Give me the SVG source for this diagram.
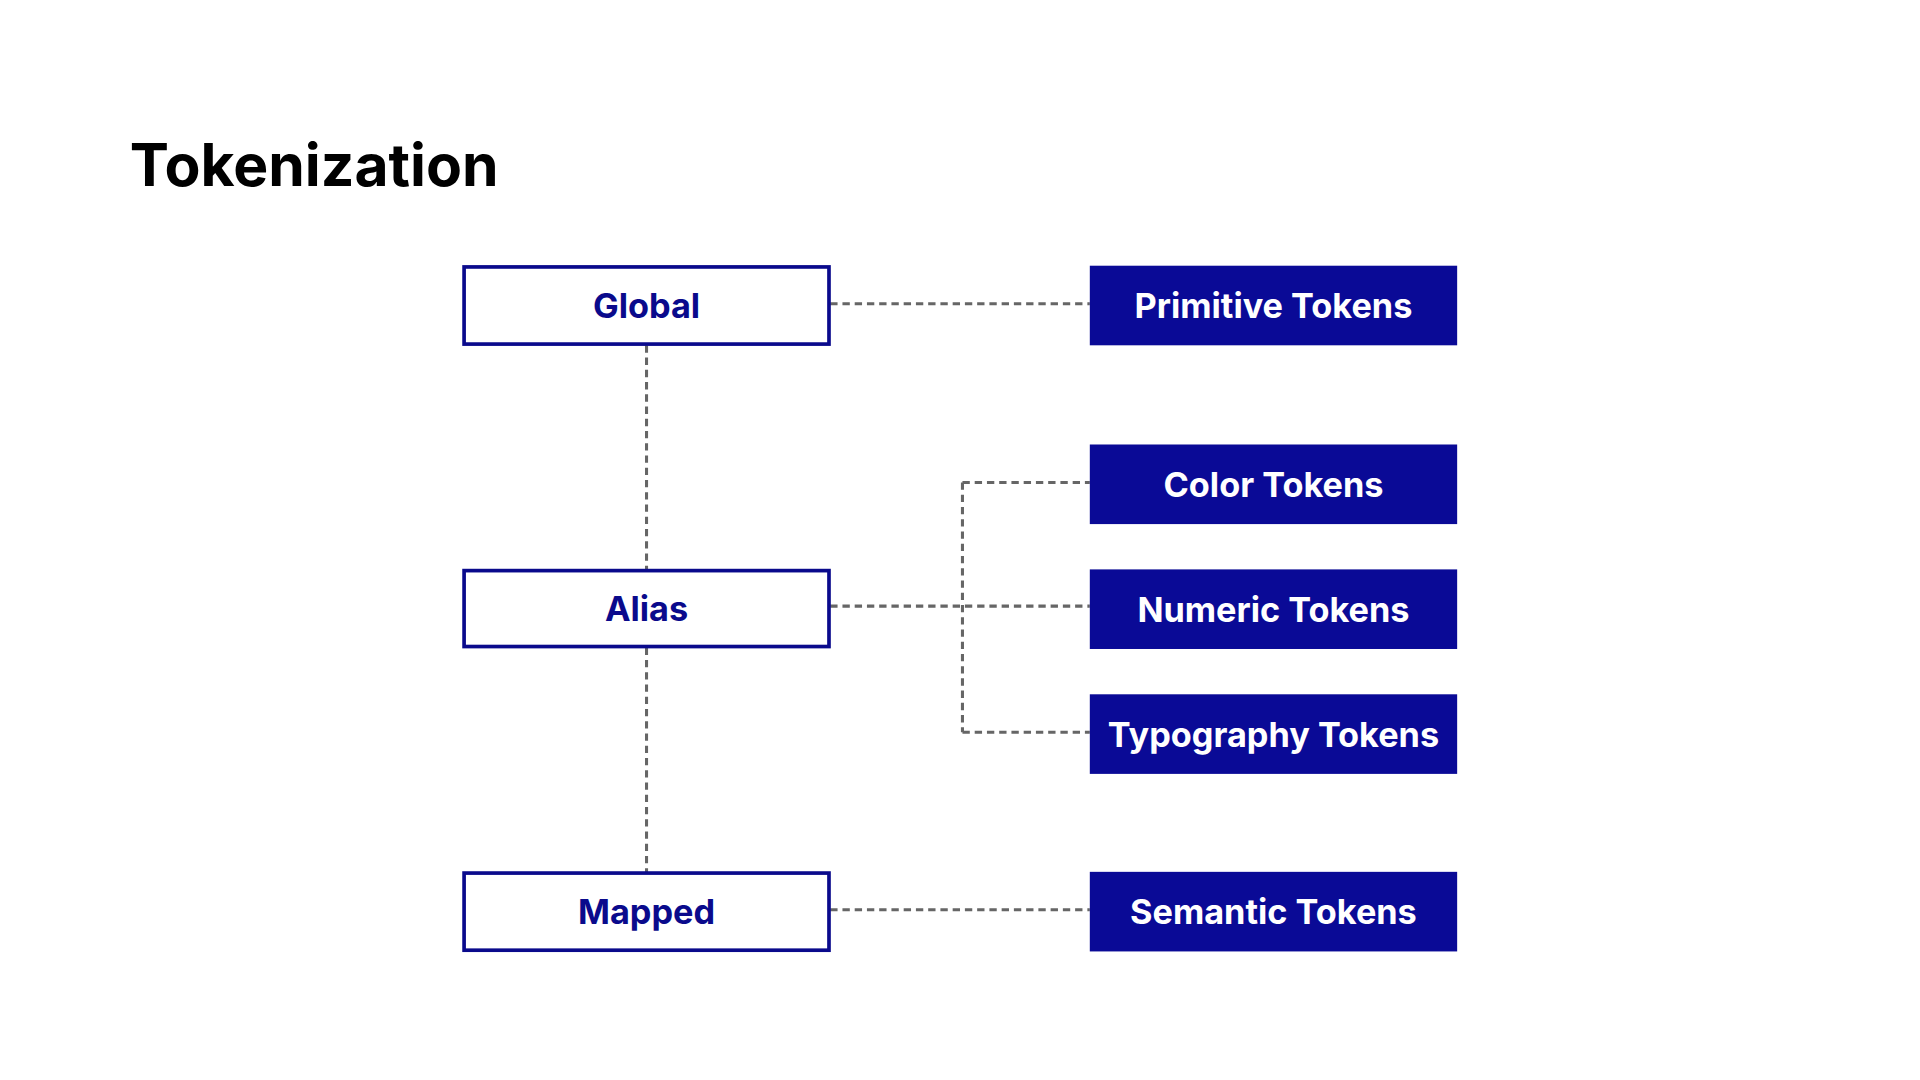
<svg xmlns="http://www.w3.org/2000/svg" width="1920" height="1080" viewBox="0 0 1920 1080">
<style>
.l{fill:#fff;stroke:#0a0a8c;stroke-width:3}
.r{fill:#0a0a96}
.t{font-family:Inter,"Liberation Sans",sans-serif;font-weight:700;font-size:28px;text-anchor:middle}
.lt{fill:#0a0a8c}
.rt{fill:#fff}
.c{stroke:#666;stroke-width:2.5;stroke-dasharray:6 4;fill:none}
</style>
<rect width="1920" height="1080" fill="#fff"/>
<g transform="scale(1.2245)">
<text x="106" y="152" font-family="Inter,'Liberation Sans',sans-serif" font-weight="700" font-size="48" fill="#000">Tokenization</text>
<g id="connectors">
<path class="c" d="M678 248H890M528 282V466M528 529V713M678 495H890M786 394V598M786 394H890M786 598H890M678 743H890"/>
</g>
<g id="global"><rect class="l" x="379" y="218" width="298" height="63"/><text class="t lt" x="528" y="260">Global</text></g>
<g id="alias"><rect class="l" x="379" y="466" width="298" height="62"/><text class="t lt" x="528" y="507">Alias</text></g>
<g id="mapped"><rect class="l" x="379" y="713" width="298" height="63"/><text class="t lt" x="528" y="755">Mapped</text></g>
<g id="primitive"><rect class="r" x="890" y="217" width="300" height="65"/><text class="t rt" x="1040" y="260">Primitive Tokens</text></g>
<g id="color"><rect class="r" x="890" y="363" width="300" height="65"/><text class="t rt" x="1040" y="406">Color Tokens</text></g>
<g id="numeric"><rect class="r" x="890" y="465" width="300" height="65"/><text class="t rt" x="1040" y="508">Numeric Tokens</text></g>
<g id="typography"><rect class="r" x="890" y="567" width="300" height="65"/><text class="t rt" x="1040" y="610">Typography Tokens</text></g>
<g id="semantic"><rect class="r" x="890" y="712" width="300" height="65"/><text class="t rt" x="1040" y="755">Semantic Tokens</text></g>
</g>
</svg>
